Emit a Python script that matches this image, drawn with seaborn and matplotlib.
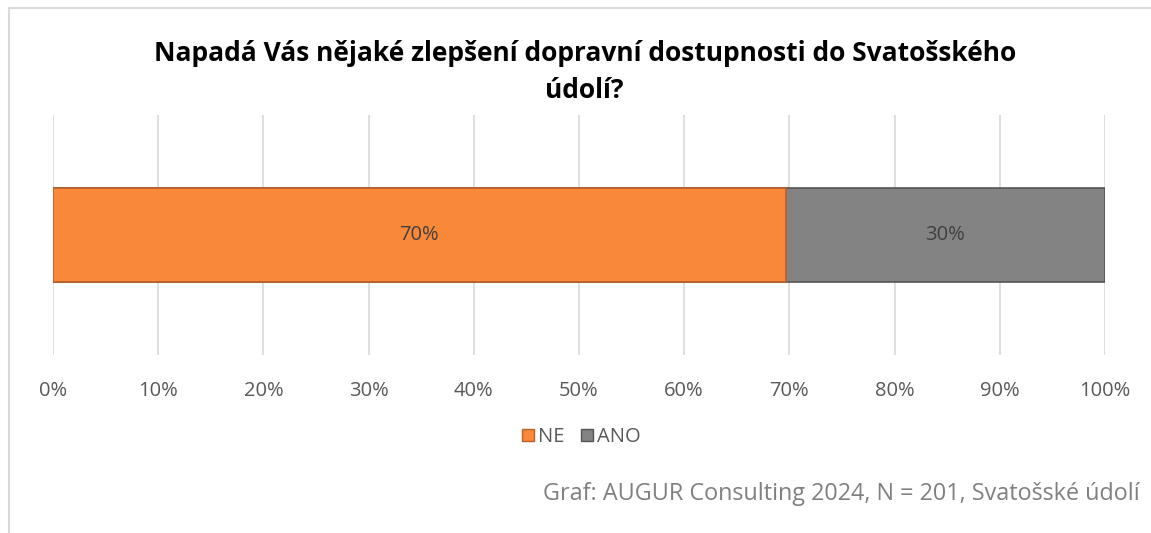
import seaborn as sns
import matplotlib.pyplot as plt
import pandas as pd
from matplotlib.patches import Patch, Rectangle

# ---------------- data ---------------- #
categories = ['NE', 'ANO']
shares = [69.65, 30.35]
labels = ['70%', '30%']
colors = ['#F98838', '#838383']
edges = ['#B8602A', '#555555']
ticks = [0, 10, 20, 30, 40, 50, 60, 70, 80, 90, 100]

df = pd.DataFrame({'q': ['x'], 'NE': [shares[0]], 'total': [shares[0] + shares[1]]})

sns.set_theme(style='white')
plt.rcParams['font.family'] = ['Open Sans', 'DejaVu Sans']

fig = plt.figure(figsize=(11.51, 5.33), dpi=100)
ax = fig.add_axes([0.046, 0.334, 0.914, 0.45])

# stacked bar: full bar in gray, NE on top in orange
sns.barplot(data=df, x='total', y='q', orient='h', color=colors[1], width=0.5,
            edgecolor=edges[1], linewidth=1.2, saturation=1, ax=ax)
sns.barplot(data=df, x='NE', y='q', orient='h', color=colors[0], width=0.5,
            edgecolor=edges[0], linewidth=1.2, saturation=1, ax=ax)

ax.set_xlim(0, 100)
ax.set_ylim(0.632, -0.632)
ax.set_xticks(ticks)
ax.set_xticklabels([f'{t}%' for t in ticks], fontsize=14.5, color='#595959')
ax.tick_params(axis='x', pad=19, length=0)
ax.set_yticks([])
ax.set_xlabel('')
ax.set_ylabel('')
ax.grid(axis='x', color='#D9D9D9', linewidth=1.2)
ax.set_axisbelow(True)
for s in ax.spines.values():
    s.set_visible(False)

# data labels
ax.text(shares[0] / 2, 0, labels[0], ha='center', va='center', fontsize=14.5, color='#404040')
ax.text(shares[0] + shares[1] / 2, 0, labels[1], ha='center', va='center', fontsize=14.5, color='#404040')

fig.text(0.508, 0.865, 'Napadá Vás nějaké zlepšení dopravní dostupnosti do Svatošského\núdolí?',
         ha='center', va='center', fontsize=19, fontweight='bold', color='black', linespacing=1.5)

handles = [Patch(facecolor=colors[i], edgecolor=edges[i], label=categories[i]) for i in range(2)]
fig.legend(handles=handles, loc='center', bbox_to_anchor=(0.505, 0.18), ncol=2, frameon=False,
           fontsize=14.5, handlelength=0.6, handleheight=0.6, handletextpad=0.2, columnspacing=0.8,
           labelcolor='#595959')

fig.text(0.99, 0.073, 'Graf: AUGUR Consulting 2024, N = 201, Svatošské údolí',
         ha='right', va='center', fontsize=16.8, color='#808080')

# chart border
fig.add_artist(Rectangle((0.008, -0.01), 1.2, 0.995, transform=fig.transFigure,
                         fill=False, edgecolor='#D9D9D9', linewidth=1.5))

fig.savefig('out.png', dpi=100)
